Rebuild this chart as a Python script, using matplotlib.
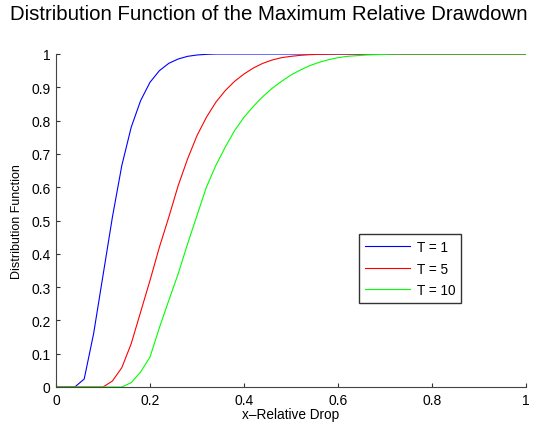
import numpy as np
import matplotlib
matplotlib.use("Agg")
import matplotlib.pyplot as plt

plt.rcParams["font.family"] = ["Liberation Sans", "DejaVu Sans"]

# -----------------------------
# Data (read off the reference, x sampled every 0.02)
# -----------------------------
x_drop = np.linspace(0, 1, 51)  # sample grid 0:0.02:1

cdf_t1 = [0, 0, 0, 0.024, 0.16, 0.335, 0.51, 0.665, 0.78, 0.86,
          0.915, 0.95, 0.972, 0.985, 0.993, 0.997, 0.999] + [1] * 34

cdf_t5 = [0] * 6 + [0.018, 0.058, 0.13, 0.225, 0.32, 0.42, 0.51, 0.605,
                    0.685, 0.755, 0.81, 0.855, 0.89, 0.918, 0.94, 0.958,
                    0.972, 0.982, 0.989, 0.993, 0.996, 0.998, 0.999,
                    0.9995] + [1] * 21

cdf_t10 = [0] * 8 + [0.013, 0.045, 0.09, 0.178, 0.26, 0.34, 0.43, 0.515,
                     0.60, 0.665, 0.72, 0.77, 0.81, 0.843, 0.872, 0.897,
                     0.918, 0.937, 0.952, 0.965, 0.975, 0.983, 0.989,
                     0.993, 0.995, 0.997, 0.998, 0.999] + [1] * 15

labels = ["T = 1", "T = 5", "T = 10"]
colors = ["#0000ff", "#ff0000", "#00ff00"]

x_ticks = [0, 0.2, 0.4, 0.6, 0.8, 1]
x_tick_labels = ["0", "0.2", "0.4", "0.6", "0.8", "1"]
y_ticks = [0, 0.1, 0.2, 0.3, 0.4, 0.5, 0.6, 0.7, 0.8, 0.9, 1]
y_tick_labels = ["0", "0.1", "0.2", "0.3", "0.4", "0.5", "0.6", "0.7", "0.8", "0.9", "1"]

# -----------------------------
# Plot
# -----------------------------
W, H = 547, 427
fig = plt.figure(figsize=(W / 100, H / 100), dpi=100)
ax = fig.add_axes([56 / W, 1 - 388 / H, 470 / W, 333 / H])

for ys, lab, col in zip([cdf_t1, cdf_t5, cdf_t10], labels, colors):
    ax.plot(x_drop, ys, color=col, lw=0.8, label=lab)

ax.set_xlim(0, 1)
ax.set_ylim(0, 1)
ax.set_xticks(x_ticks)
ax.set_xticklabels(x_tick_labels)
ax.set_yticks(y_ticks)
ax.set_yticklabels(y_tick_labels)
ax.tick_params(direction="in", length=3, width=0.8, labelsize=10, colors="#333333",
               labelcolor="black", pad=4)
for side in ["top", "right"]:
    ax.spines[side].set_visible(False)
for side in ["left", "bottom"]:
    ax.spines[side].set_color("#444444")
    ax.spines[side].set_linewidth(0.8)

ax.set_xlabel("x–Relative Drop", fontsize=9.8, labelpad=0)
ax.set_ylabel("Distribution Function", fontsize=9, labelpad=6)

fig.text(10 / W, 1 - 15 / H, "Distribution Function of the Maximum Relative Drawdown",
         fontsize=14.7, ha="left", va="center")

leg = ax.legend(loc="upper left", bbox_to_anchor=((359 - 56) / 470, (388 - 235) / 333),
                frameon=True, fancybox=False, fontsize=9.8, handlelength=3.3,
                borderaxespad=0, borderpad=0.45, labelspacing=0.55, handletextpad=0.5)
leg.get_frame().set_edgecolor("black")
leg.get_frame().set_linewidth(1.0)

fig.savefig("out.png", dpi=100)
